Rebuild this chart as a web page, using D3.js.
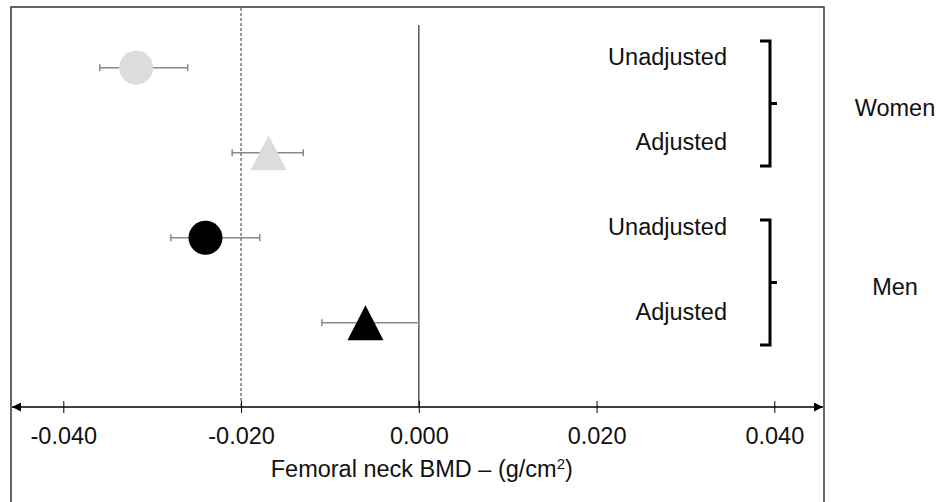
<!DOCTYPE html>
<html>
<head>
<meta charset="utf-8">
<script src="https://cdn.jsdelivr.net/npm/d3@7"></script>
<style>
  body { margin: 0; background: #fff; }
  svg { display: block; font-family: "Liberation Sans", Arial, sans-serif; }
</style>
</head>
<body>
<div id="chart"></div>
<script>
// rows, top to bottom
const groups = ["Women", "Women", "Men", "Men"];
const models = ["Unadjusted", "Adjusted", "Unadjusted", "Adjusted"];
const estimates = [-0.0318, -0.0169, -0.0240, -0.0060];
const lower = [-0.0359, -0.0210, -0.0279, -0.0109];
const upper = [-0.0260, -0.0130, -0.0179, 0.0000];
const tickValues = [-0.04, -0.02, 0, 0.02, 0.04];
const refLine = -0.02;

const width = 951, height = 502;
const axisY = 407;
const fontSize = 23.5;

const svg = d3.select("#chart").append("svg")
    .attr("width", width)
    .attr("height", height);

const x = d3.scaleLinear()
    .domain([-0.04, 0.04])
    .range([63.3, 774.3]);
const y = d3.scalePoint()
    .domain(d3.range(models.length))
    .range([67.7, 322.7]);
const color = d3.scaleOrdinal()
    .domain(["Women", "Men"])
    .range(["#dcdcdc", "#000000"]);

// frame
svg.append("rect")
    .attr("x", 11).attr("y", 7)
    .attr("width", 813).attr("height", 520)
    .attr("fill", "none")
    .attr("stroke", "#333")
    .attr("stroke-width", 1.5);

// reference lines
svg.append("line")
    .attr("x1", x(refLine)).attr("x2", x(refLine))
    .attr("y1", 8).attr("y2", axisY)
    .attr("stroke", "#777")
    .attr("stroke-width", 1.5)
    .attr("stroke-dasharray", "3,2");
svg.append("line")
    .attr("x1", x(0)).attr("x2", x(0))
    .attr("y1", 25).attr("y2", axisY)
    .attr("stroke", "#555")
    .attr("stroke-width", 1.5);

// x axis with arrows at both ends
const defs = svg.append("defs");
defs.append("marker")
    .attr("id", "arrow")
    .attr("viewBox", "0 0 10 10")
    .attr("refX", 10).attr("refY", 5)
    .attr("markerWidth", 7).attr("markerHeight", 6)
    .attr("markerUnits", "strokeWidth")
    .attr("orient", "auto-start-reverse")
  .append("path")
    .attr("d", "M0,0L10,5L0,10Z")
    .attr("fill", "#000");

const xAxis = svg.append("g")
    .attr("transform", "translate(0," + axisY + ")")
    .call(d3.axisBottom(x)
      .tickValues(tickValues)
      .tickFormat(d => d.toFixed(3))
      .tickSizeOuter(0));
xAxis.select(".domain").remove();
xAxis.selectAll(".tick line")
    .attr("y1", -6).attr("y2", 6)
    .attr("stroke", "#000");
xAxis.selectAll(".tick text")
    .attr("y", 37)
    .attr("dy", null)
    .attr("font-size", fontSize)
    .attr("font-family", "Liberation Sans, Arial, sans-serif")
    .attr("fill", "#111");
svg.append("line")
    .attr("x1", 12).attr("x2", 823)
    .attr("y1", axisY).attr("y2", axisY)
    .attr("stroke", "#000")
    .attr("stroke-width", 1.5)
    .attr("marker-start", "url(#arrow)")
    .attr("marker-end", "url(#arrow)");

// axis title
const title = svg.append("text")
    .attr("x", x(0) + 3)
    .attr("y", 476.5)
    .attr("text-anchor", "middle")
    .attr("font-size", fontSize)
    .attr("fill", "#111");
title.append("tspan").text("Femoral neck BMD \u2013 (g/cm");
title.append("tspan").text("2").attr("font-size", 15).attr("dy", -8);
title.append("tspan").text(")").attr("dy", 8);

// error bars
const rows = svg.append("g").selectAll("g")
    .data(d3.range(models.length))
    .join("g");
rows.append("line")
    .attr("x1", i => x(lower[i])).attr("x2", i => x(upper[i]))
    .attr("y1", i => y(i)).attr("y2", i => y(i))
    .attr("stroke", "#888")
    .attr("stroke-width", 1.5);
rows.selectAll(".cap")
    .data(i => [lower[i], upper[i]].map(v => [v, i]))
    .join("line")
    .attr("class", "cap")
    .attr("x1", d => x(d[0])).attr("x2", d => x(d[0]))
    .attr("y1", d => y(d[1]) - 3.5).attr("y2", d => y(d[1]) + 3.5)
    .attr("stroke", "#888")
    .attr("stroke-width", 1.5);

// markers: circle for unadjusted, triangle for adjusted
rows.filter(i => models[i] === "Unadjusted")
  .append("circle")
    .attr("cx", i => x(estimates[i]))
    .attr("cy", i => y(i))
    .attr("r", 17)
    .attr("fill", i => color(groups[i]));
rows.filter(i => models[i] === "Adjusted")
  .append("path")
    .attr("d", i => {
      const cx = x(estimates[i]), cy = y(i);
      return "M" + cx + "," + (cy - 17.5) + "L" + (cx + 18) + "," + (cy + 17.5) + "L" + (cx - 18) + "," + (cy + 17.5) + "Z";
    })
    .attr("fill", i => color(groups[i]));

// row labels
rows.append("text")
    .attr("x", 727)
    .attr("y", i => y(i) - 2.5)
    .attr("text-anchor", "end")
    .attr("font-size", fontSize)
    .attr("fill", "#111")
    .text(i => models[i]);

// brackets and group labels (bracket spans are layout, in px)
const groupNames = ["Women", "Men"];
const bracketSpans = [[41, 166], [220, 345]];
groupNames.forEach((g, k) => {
  const [top, bottom] = bracketSpans[k];
  const mid = (top + bottom) / 2;
  svg.append("path")
      .attr("d", "M760," + top + "H770V" + bottom + "H760M770," + mid + "H777")
      .attr("fill", "none")
      .attr("stroke", "#000")
      .attr("stroke-width", 3);
  svg.append("text")
      .attr("x", 895)
      .attr("y", mid + 12)
      .attr("text-anchor", "middle")
      .attr("font-size", fontSize)
      .attr("fill", "#111")
      .text(g);
});
</script>
</body>
</html>
